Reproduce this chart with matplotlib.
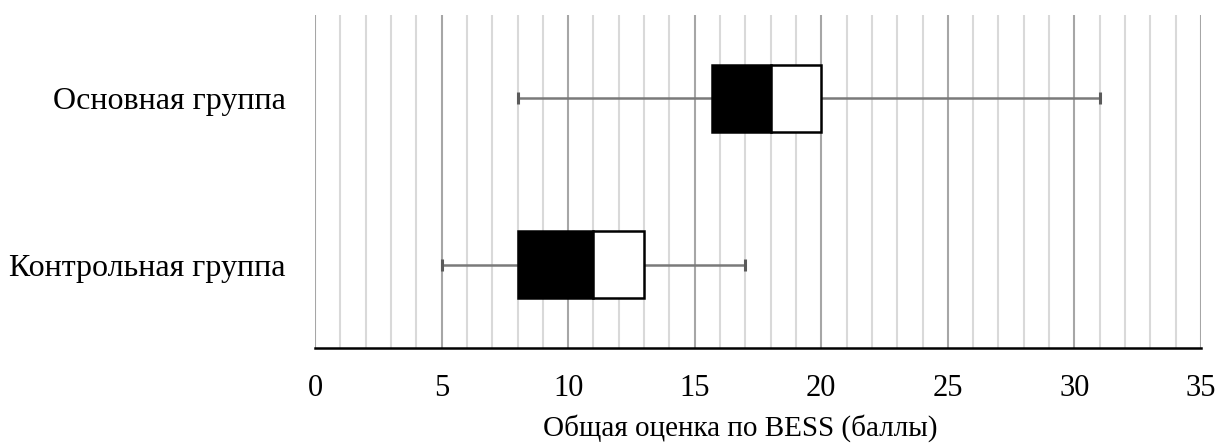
import matplotlib
matplotlib.use("Agg")
import matplotlib.pyplot as plt
from matplotlib.ticker import MultipleLocator

plt.rcParams['font.family'] = ['Liberation Serif', 'DejaVu Serif']

groups = ["Контрольная группа", "Основная группа"]
whisker_low = [5, 8]
q1 = [8, 15.7]
median = [11, 18]
q3 = [13, 20]
whisker_high = [17, 31]

fig = plt.figure(figsize=(12.19, 4.44), dpi=100)
ax = fig.add_axes([315 / 1219, 1 - 348 / 444, (1201 - 315) / 1219, (348 - 15) / 444])

ypos = [0.5, 1.5]
box_h = 0.4

# whiskers with end caps
ax.hlines(ypos, whisker_low, q1, color="#7a7a7a", lw=1.8, zorder=2)
ax.hlines(ypos, q3, whisker_high, color="#7a7a7a", lw=1.8, zorder=2)
for y, lo, hi in zip(ypos, whisker_low, whisker_high):
    ax.vlines([lo, hi], y - 0.035, y + 0.035, color="#5a5a5a", lw=2.2, zorder=2)

# two-tone boxes: lower part filled, upper part open
lower = [m - a for m, a in zip(median, q1)]
upper = [b - m for m, b in zip(median, q3)]
ax.barh(ypos, lower, left=q1, height=box_h, color="black", edgecolor="black", lw=1.8, zorder=3)
ax.barh(ypos, upper, left=median, height=box_h, color="white", edgecolor="black", lw=1.8, zorder=3)

ax.set_xlim(0, 35)
ax.set_ylim(0, 2)
ax.set_yticks(ypos)
ax.set_yticklabels(groups, fontsize=23)
ax.xaxis.set_major_locator(MultipleLocator(5))
ax.xaxis.set_minor_locator(MultipleLocator(1))
ax.grid(axis="x", which="major", color="#a6a6a6", lw=1.5, zorder=0)
ax.grid(axis="x", which="minor", color="#d9d9d9", lw=1.5, zorder=0)
ax.set_axisbelow(True)
ax.tick_params(axis="both", which="both", length=0)
ax.tick_params(axis="x", labelsize=22, pad=19)
ax.tick_params(axis="y", pad=21)
for s in ["top", "right", "left"]:
    ax.spines[s].set_visible(False)
ax.spines["bottom"].set_color("black")
ax.spines["bottom"].set_linewidth(1.8)
ax.set_xlabel("Общая оценка по BESS (баллы)", fontsize=21, va="center")
ax.xaxis.set_label_coords((740 - 315) / 886, -(428 - 348) / 333)

fig.savefig("out.png", dpi=100)
